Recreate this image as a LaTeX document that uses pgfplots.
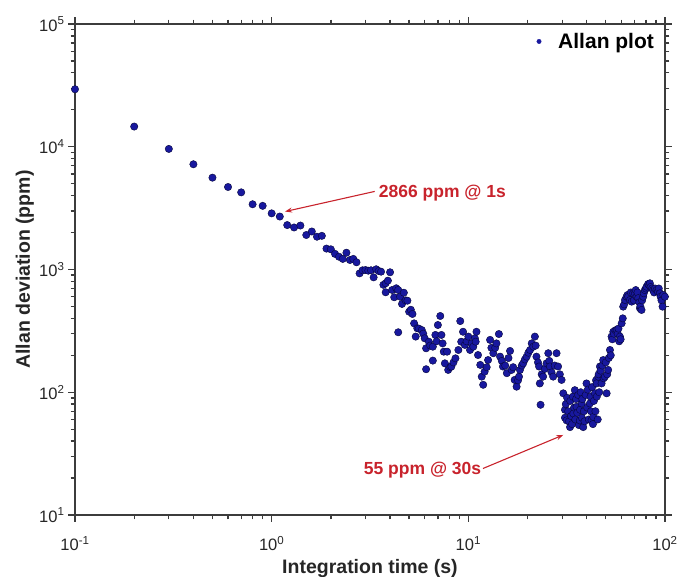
\documentclass[border=0pt]{standalone}
\usepackage{fontspec}
\setmainfont{Liberation Sans}
\usepackage{pgfplots}
\pgfplotsset{compat=1.18}
\usetikzlibrary{arrows.meta}
\definecolor{axgray}{HTML}{3C3C3C}
\definecolor{dotfill}{HTML}{18189E}
\definecolor{dotedge}{HTML}{06063A}
\definecolor{annred}{HTML}{C8232C}

% tau (s), Allan deviation (ppm)
\pgfplotstableread{
tau adev
0.1 29400
0.2 14600
0.3 9600
0.4 7200
0.5 5600
0.6 4700
0.7 4250
0.8 3400
0.9 3300
1.0 2866
1.1 2700
1.2 2300
1.3 2200
1.4 2280
1.5 1910
1.6 2040
1.7 1850
1.8 1880
1.9 1480
2.0 1460
2.1 1340
2.2 1270
2.3 1220
2.4 1370
2.5 1195
2.6 1220
2.7 1145
2.8 930
2.9 985
3.0 990
3.1 978
3.2 985
3.3 863
3.4 1004
3.5 972
3.6 960
3.7 750
3.8 652
3.8 772
3.9 811
4.0 949
4.1 681
4.2 594
4.3 703
4.4 681
4.4 308
4.5 600
4.6 524
4.7 647
4.8 560
4.9 557
5.0 453
5.1 470
5.2 434
5.3 364
5.4 284
5.5 332
5.6 330
5.8 321
5.9 300
6.0 275
6.1 228
6.1 154
6.3 258
6.4 240
6.6 235
6.6 181
6.8 293
6.9 260
7.0 353
7.2 418
7.3 293
7.4 250
7.5 214
7.6 172
7.8 214
7.9 152
8.1 160
8.2 162
8.4 175
8.6 189
8.9 221
9.1 380
9.2 258
9.4 311
9.6 243
9.8 260
10.0 284
10.2 221
10.4 250
10.6 235
10.8 275
10.9 258
11.0 311
11.2 201
11.5 167
11.7 134
11.9 115
12.1 147
12.4 160
12.6 183
12.9 267
13.1 230
13.4 208
13.7 230
13.9 250
14.3 298
14.5 195
14.8 180
15.0 162
15.4 165
15.7 143
16.0 190
16.3 217
16.6 152
16.9 160
17.2 126
17.6 111
17.9 125
18.1 134
18.3 152
18.7 165
19.0 172
19.4 185
19.8 195
20.2 210
20.6 221
21.0 250
21.4 235
21.8 284
22.0 240
22.2 195
22.6 175
22.9 162
23.1 118
23.3 79
23.6 140
24.0 134
24.5 155
25.0 172
25.5 208
25.8 180
26.0 162
26.5 145
27.0 134
27.5 165
28.1 208
28.6 162
29.2 140
29.8 126
30.4 98
31.0 72
31.0 62
31.3 80
31.6 59
31.8 90
32.2 70
32.5 58
32.9 52
33.0 85
33.3 64
33.7 55
34.0 92
34.2 67
34.5 75
34.8 104
35.0 60
35.3 88
35.5 76
35.8 68
36.2 95
36.5 54
36.9 59
37.0 72
37.3 100
37.7 81
37.8 62
38.0 88
38.4 52
38.7 70
39.0 58
39.5 95
39.9 118
40.2 75
40.5 105
41.0 60
41.5 81
41.8 92
42.0 70
42.3 59
42.6 110
43.0 55
43.2 63
43.5 85
44.0 98
44.3 70
44.6 125
44.9 118
45.0 92
45.5 60
45.8 134
46.0 140
46.3 100
46.7 162
47.0 150
47.6 118
48.0 165
48.5 183
48.8 130
49.5 134
50.0 175
50.5 98
50.8 140
51.4 152
51.8 190
52.5 221
53.0 200
53.5 284
54.0 270
54.6 311
55.0 300
56.0 320
56.8 321
57.5 300
58.0 330
58.5 260
59.0 284
59.5 270
60.2 364
61.0 400
61.3 498
62.0 520
62.6 564
63.8 600
64.5 620
65.0 600
66.3 564
67.0 650
67.7 547
68.9 640
69.5 560
70.3 640
71.0 680
71.7 600
72.5 650
73.1 584
74.0 540
74.6 483
75.0 500
76.0 468
76.5 560
77.5 600
78.0 640
79.0 680
80.0 700
80.6 724
82.0 760
83.1 748
83.8 772
84.5 720
86.0 700
87.1 681
88.0 650
89.0 700
90.6 681
92.0 660
93.0 700
94.2 640
95.0 600
96.0 560
97.2 498
98.0 620
99.9 600
}\allandata

\begin{document}
\begin{tikzpicture}
\begin{axis}[
  at={(0pt,0pt)}, anchor=south west,
  width=590pt, height=491pt, scale only axis,
  xmode=log, ymode=log,
  xmin=0.1, xmax=100, ymin=10, ymax=1e5,
  clip=false, axis on top,
  axis line style={axgray, line width=1.6pt},
  every tick/.style={draw=axgray, line width=1.3pt},
  xtick pos=both, ytick pos=both,
  xtick align=outside, ytick align=outside,
  major tick length=7pt, minor tick length=4.5pt,
  xtick={0.1,1,10,100},
  xticklabels={10\textsuperscript{-1},10\textsuperscript{0},10\textsuperscript{1},10\textsuperscript{2}},
  minor xtick={0.2,0.3,0.4,0.5,0.6,0.7,0.8,0.9,2,3,4,5,6,7,8,9,20,30,40,50,60,70,80,90},
  ytick={10,100,1000,10000,100000},
  yticklabels={10\textsuperscript{1},10\textsuperscript{2},10\textsuperscript{3},10\textsuperscript{4},10\textsuperscript{5}},
  minor ytick={20,30,40,50,60,70,80,90,200,300,400,500,600,700,800,900,2000,3000,4000,5000,6000,7000,8000,9000,20000,30000,40000,50000,60000,70000,80000,90000},
  tick label style={font=\fontsize{16.5}{18}\selectfont, text=black!85},
  xticklabel style={yshift=-11pt},
  yticklabel style={xshift=0pt},
  xlabel={Integration time (s)},
  ylabel={Allan deviation (ppm)},
  xlabel style={yshift=-1pt},
  ylabel style={yshift=-1.5pt},
  label style={font=\bfseries\fontsize{19.5}{22}\selectfont, text=black!85},
  legend style={draw=none, fill=none, at={(0.99,0.99)}, anchor=north east,
    font=\bfseries\fontsize{21}{24}\selectfont},
  legend cell align=left,
]
\addlegendimage{only marks, mark=*, mark size=2.2pt,
  mark options={fill=dotfill, draw=dotfill}}
\addlegendentry{\hspace{15pt}Allan plot}
\addplot[only marks, mark=*, mark size=3.7pt, forget plot,
  mark options={fill=dotfill, draw=dotedge, line width=0.4pt}]
  table[x=tau, y=adev] {\allandata};

\draw[annred, line width=1.1pt, -{Stealth[length=7pt,width=5pt]}]
  (rel axis cs:0.508,0.659) -- (rel axis cs:0.356,0.618);
\node[annred, anchor=west, inner sep=1pt, font=\bfseries\fontsize{17.5}{20}\selectfont]
  at (rel axis cs:0.513,0.655) {2866 ppm @ 1s};
\draw[annred, line width=1.1pt, -{Stealth[length=7pt,width=5pt]}]
  (rel axis cs:0.6915,0.0947) -- (rel axis cs:0.8276,0.163);
\node[annred, anchor=east, inner sep=1pt, font=\bfseries\fontsize{17.5}{20}\selectfont]
  at (rel axis cs:0.6905,0.091) {55 ppm @ 30s};
\end{axis}
\pgfresetboundingbox
\path[use as bounding box] (-75pt,-62pt) rectangle (603pt,515pt);
\end{tikzpicture}
\end{document}
